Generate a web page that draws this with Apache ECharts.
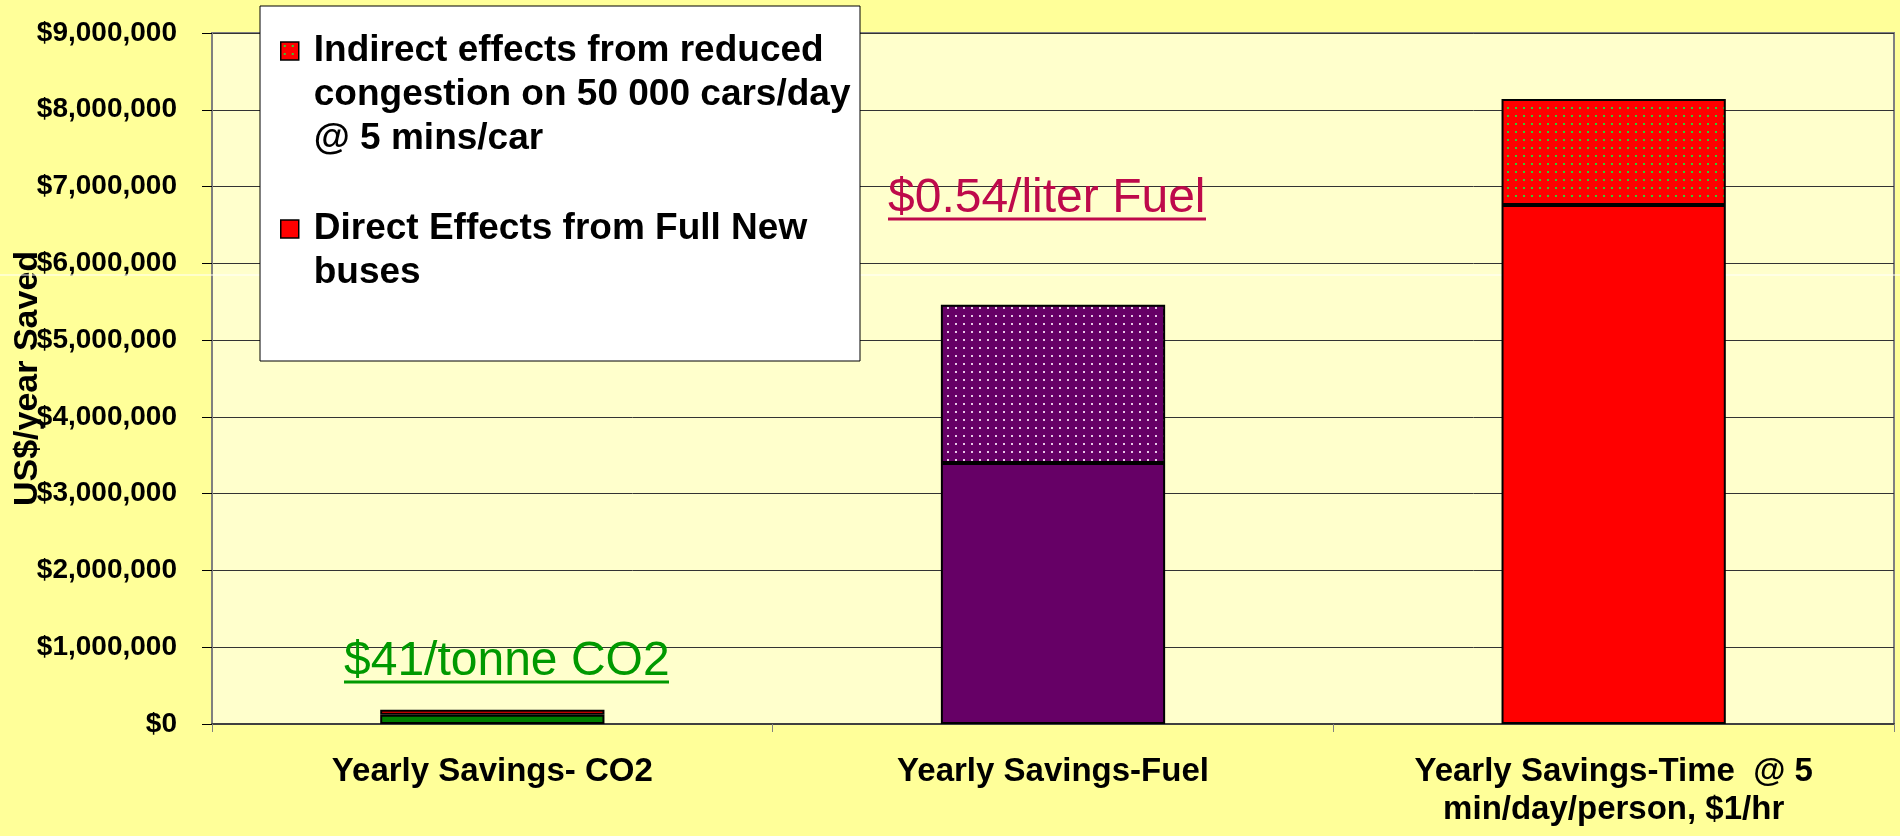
<!DOCTYPE html>
<html>
<head>
<meta charset="utf-8">
<script src="https://cdn.jsdelivr.net/npm/echarts@6/dist/echarts.min.js"></script>
<style>
html,body{margin:0;padding:0;background:#FFFF99;}
#chart{width:1900px;height:836px;}
</style>
</head>
<body>
<div id="chart"></div>
<script>
// ---- data ----
var categories = ['Yearly Savings- CO2', 'Yearly Savings-Fuel', 'Yearly Savings-Time  @ 5\nmin/day/person, $1/hr'];
var directValues = [120000, 3400000, 6760000];
var indirectValues = [65000, 2060000, 1380000];
var yTickLabels = ['$0', '$1,000,000', '$2,000,000', '$3,000,000', '$4,000,000', '$5,000,000', '$6,000,000', '$7,000,000', '$8,000,000', '$9,000,000'];
var directName = 'Direct Effects from Full New buses';
var indirectName = 'Indirect effects from reduced congestion on 50 000 cars/day @ 5 mins/car';
var yAxisTitle = 'US$/year Saved';
var note1 = '$41/tonne CO2';
var note2 = '$0.54/liter Fuel';

function dotPattern(bg, dot) {
  var c = document.createElement('canvas');
  c.width = 8; c.height = 8;
  var ctx = c.getContext('2d');
  ctx.fillStyle = bg; ctx.fillRect(0, 0, 8, 8);
  ctx.fillStyle = dot; ctx.fillRect(3, 3, 2, 2);
  return c;
}
var redDots = { image: dotPattern('#FF0000', '#33CC33'), repeat: 'repeat' };
var purpleDots = { image: dotPattern('#660066', '#E8C8E8'), repeat: 'repeat' };

var directColors = ['#008000', '#660066', '#FF0000'];
var indirectColors = [redDots, purpleDots, redDots];

var FONT = '"Liberation Sans", Arial, Helvetica, sans-serif';

var chart = echarts.init(document.getElementById('chart'));
var option = {
  backgroundColor: '#FFFF99',
  animation: false,
  grid: {
    left: 212, right: 6, top: 33, bottom: 112,
    outerBoundsMode: 'none',
    containLabel: false,
    show: true, backgroundColor: '#FFFFCC', borderColor: '#808080', borderWidth: 2
  },
  legend: [
    {
      data: [indirectName],
      orient: 'vertical',
      left: 280, top: -59,
      padding: 0,
      itemWidth: 18, itemHeight: 18,
      icon: 'rect',
      itemStyle: { borderColor: '#000', borderWidth: 1.5 },
      formatter: function () { return '\n\nIndirect effects from reduced\ncongestion on 50 000 cars/day\n@ 5 mins/car'; },
      textStyle: { fontFamily: FONT, fontWeight: 'bold', fontSize: 37, lineHeight: 44, color: '#000', padding: [0, 0, 0, 10] },
      selectedMode: false
    },
    {
      data: [directName],
      orient: 'vertical',
      left: 280, top: 163,
      padding: 0,
      itemWidth: 18, itemHeight: 18,
      icon: 'rect',
      itemStyle: { borderColor: '#000', borderWidth: 1.5 },
      formatter: function () { return '\nDirect Effects from Full New\nbuses'; },
      textStyle: { fontFamily: FONT, fontWeight: 'bold', fontSize: 37, lineHeight: 44, color: '#000', padding: [0, 0, 0, 10] },
      selectedMode: false
    }
  ],
  xAxis: {
    type: 'category',
    data: categories,
    axisLine: { lineStyle: { color: '#404040', width: 2 } },
    axisTick: { show: true, length: 8, lineStyle: { color: '#808080', width: 1 } },
    axisLabel: {
      interval: 0, margin: 29,
      fontFamily: FONT, fontWeight: 'bold', fontSize: 33, lineHeight: 38, color: '#000'
    }
  },
  yAxis: {
    type: 'value',
    min: 0, max: 9000000, interval: 1000000,
    name: yAxisTitle,
    nameLocation: 'middle',
    nameGap: 167,
    nameMoveOverlap: false,
    nameTextStyle: { fontFamily: FONT, fontWeight: 'bold', fontSize: 34, color: '#000' },
    axisLine: { show: true, lineStyle: { color: '#808080', width: 2 } },
    axisTick: { show: true, length: 10, lineStyle: { color: '#000', width: 1 } },
    axisLabel: {
      margin: 35,
      fontFamily: FONT, fontWeight: 'bold', fontSize: 28, color: '#000',
      formatter: function (v) { return yTickLabels[Math.round(v / 1000000)]; }
    },
    splitLine: { show: true, lineStyle: { color: '#333', width: 1 } }
  },
  series: [
    {
      name: directName,
      type: 'bar',
      stack: 'total',
      barWidth: '40%',
      itemStyle: { color: '#FF0000', borderColor: '#000', borderWidth: 2 },
      data: directValues.map(function (v, i) { return { value: v, itemStyle: { color: directColors[i] } }; })
    },
    {
      name: indirectName,
      type: 'bar',
      stack: 'total',
      barWidth: '40%',
      itemStyle: { color: redDots, borderColor: '#000', borderWidth: 2 },
      data: indirectValues.map(function (v, i) { return { value: v, itemStyle: { color: indirectColors[i] } }; })
    }
  ],
  graphic: [
    { type: 'line', silent: true, z: 1, shape: { x1: 0, y1: 275, x2: 1900, y2: 275 }, style: { stroke: '#FFFFFF', lineWidth: 1 } },
    { type: 'rect', silent: true, z: 3, shape: { x: 260, y: 6, width: 600, height: 355 }, style: { fill: '#FFFFFF', stroke: '#000', lineWidth: 1 } },
    { type: 'text', silent: true, z: 5, x: 344, y: 662, style: { text: note1, font: '48px ' + FONT, fill: '#009900', verticalAlign: 'middle', align: 'left' } },
    { type: 'rect', silent: true, z: 5, shape: { x: 344, y: 680.5, width: 325, height: 3 }, style: { fill: '#009900' } },
    { type: 'text', silent: true, z: 5, x: 888, y: 198.5, style: { text: note2, font: '48px ' + FONT, fill: '#BE0A4B', verticalAlign: 'middle', align: 'left' } },
    { type: 'rect', silent: true, z: 5, shape: { x: 888, y: 217.5, width: 318, height: 3 }, style: { fill: '#BE0A4B' } }
  ]
};
chart.setOption(option);
</script>
</body>
</html>
